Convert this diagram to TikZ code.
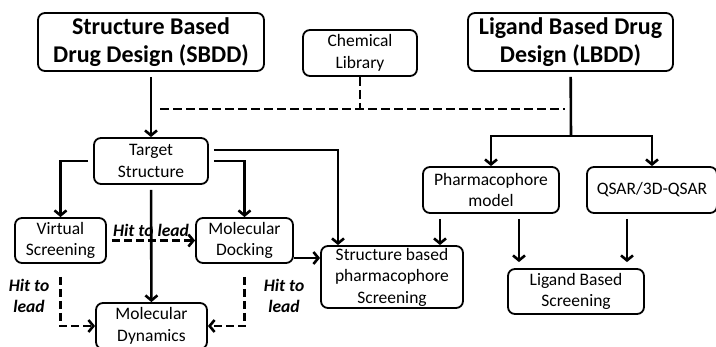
\documentclass[tikz,border=0pt]{standalone}
\usepackage{fontspec}
\setmainfont{Carlito}
\usetikzlibrary{arrows.meta,calc}

\begin{document}
\begin{tikzpicture}
[x=1pt,y=-1pt,
  boxDecorate/.style={draw,line width=1.8pt,rounded corners=7pt,align=center,inner sep=0pt,
    font=\fontsize{17.5}{21.5}\selectfont},
  titleDecorate/.style={boxDecorate,font=\fontsize{24}{28.5}\selectfont\bfseries},
  lineDecorate/.style={line width=2.6pt,shorten <=5pt,-{Straight Barb[length=5pt,width=12pt]}},
  dashDecorate/.style={lineDecorate,dash pattern=on 8pt off 4pt},
  leadDecorate/.style={font=\fontsize{17.5}{21}\selectfont\bfseries\itshape,align=center}]
\clip (0,0) rectangle (716,347);
%% boxes
\node (sbdd) at (151,42) [titleDecorate,minimum width=226,minimum height=58] {Structure Based\\Drug Design (SBDD)};
\node (lbdd) at (570.5,42) [titleDecorate,minimum width=205,minimum height=58] {Ligand Based Drug\\Design (LBDD)};
\node (chem) at (360,53) [boxDecorate,minimum width=114,minimum height=46] {Chemical\\Library};
\node (target) at (151,161) [boxDecorate,minimum width=114,minimum height=46] {Target\\Structure};
\node (vs) at (60.5,240.5) [boxDecorate,minimum width=91,minimum height=45] {Virtual\\Screening};
\node (docking) at (244.5,240.5) [boxDecorate,minimum width=97,minimum height=45] {Molecular\\Docking};
\node (dyn) at (151.5,326) [boxDecorate,minimum width=111,minimum height=46] {Molecular\\Dynamics};
\node (sbps) at (392,277) [boxDecorate,minimum width=142,minimum height=62] {Structure based\\pharmacophore\\Screening};
\node (pharm) at (491,190) [boxDecorate,minimum width=136,minimum height=46] {Pharmacophore\\model};
\node (qsar) at (652,190) [boxDecorate,minimum width=130,minimum height=46] {QSAR/3D-QSAR};
\node (lbs) at (576,291.5) [boxDecorate,minimum width=136,minimum height=45] {Ligand Based\\Screening};
%% joints
\coordinate (dashl) at (160,109);
\coordinate (dashr) at (565,109);
\coordinate (lsplit) at (571,136);
%% lines
\draw[line width=2.6pt,dash pattern=on 9pt off 4pt] (chem) -- (chem |- dashl) (dashl) -- (dashr);
\draw[lineDecorate] (sbdd) -- (target);
\draw[lineDecorate,-] (lbdd) -- (lsplit);
\draw[lineDecorate,shorten <=0pt] (lsplit) -| (pharm);
\draw[lineDecorate,shorten <=0pt] (lsplit) -| (qsar);
\draw[lineDecorate] (target) -| (vs);
\draw[lineDecorate] (target) -| (docking);
\draw[lineDecorate] ($(target.east)+(0,-11)$) -| ($(sbps.north)+(-54,0)$);
\draw[lineDecorate] (target) -- (dyn);
\draw[lineDecorate,shorten <=0pt] ($(docking.east)+(0,17.5)$) -- ($(sbps.west)+(0,-19)$);
\draw[lineDecorate] ($(pharm.south)+(-51,0)$) -- ($(sbps.north)+(48,0)$);
\draw[lineDecorate,shorten >=6pt] ($(pharm.south)+(28,0)$) -- ($(lbs.north)+(-57,0)$);
\draw[lineDecorate,shorten >=6pt] ($(qsar.south)+(-25,0)$) -- ($(lbs.north)+(51,0)$);
%% hit to lead
\draw[dashDecorate] (vs) -- node[leadDecorate,above=-1pt] (lead1) {Hit to lead} (docking);
\draw[dashDecorate,shorten <=13pt] (vs) |- (dyn);
\draw[dashDecorate,shorten <=13pt] (docking) |- (dyn);
\node (lead2) at (29,296) [leadDecorate] {Hit to\\lead};
\node (lead3) at (284,296) [leadDecorate] {Hit to\\lead};
\end{tikzpicture}
\end{document}
